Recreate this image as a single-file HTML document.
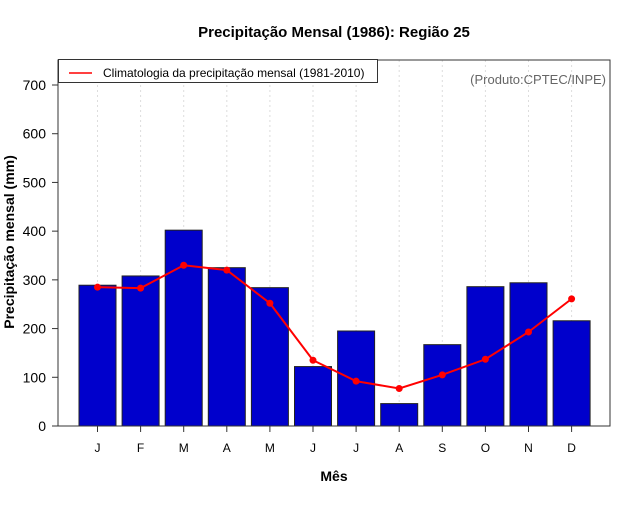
<!DOCTYPE html>
<html><head><meta charset="utf-8"><style>
body{margin:0;background:#fff}
svg text{font-family:"Liberation Sans",sans-serif}
</style></head><body>
<svg id="c" width="640" height="500">
<text x="334" y="37" text-anchor="middle" font-size="15" font-weight="bold">Precipitação Mensal (1986): Região 25</text>
<text x="334" y="481" text-anchor="middle" font-size="14" font-weight="bold">Mês</text>
<text transform="translate(14,242) rotate(-90)" text-anchor="middle" font-size="14" font-weight="bold">Precipitação mensal (mm)</text>
<text x="606" y="84" text-anchor="end" font-size="13" fill="#666">(Produto:CPTEC/INPE)</text>
<g id="grid"></g><g id="bars"></g><g id="line"></g><g id="axes"></g>
<rect x="58" y="60" width="552" height="366" fill="none" stroke="#333" stroke-width="1"/>
<g>
<rect x="58.5" y="59.5" width="319" height="23" fill="#fff" stroke="#333"/>
<line x1="69" y1="73" x2="92" y2="73" stroke="red" stroke-width="1.5"/>
<text x="103" y="77" font-size="12">Climatologia da precipitação mensal (1981-2010)</text>
</g>
</svg>
<script>
const months=["J","F","M","A","M","J","J","A","S","O","N","D"];
const precip=[289,308,402,325,284,122,195,46,167,286,294,216];
const clim=[285,283,330,320,252,135,92,77,105,137,193,261];
const yTicks=[0,100,200,300,400,500,600,700];
const NS="http://www.w3.org/2000/svg";
const y=v=>426-v*(341/700);
const x=i=>97.5+i*43.1;
function mk(t,a,p){const e=document.createElementNS(NS,t);for(const k in a)e.setAttribute(k,a[k]);document.getElementById(p).appendChild(e);return e;}
months.forEach((m,i)=>{
 const g=mk('line',{x1:x(i),x2:x(i),y1:60,y2:426,stroke:'#ddd','stroke-dasharray':'2,3'},'grid');
 
 
 const b=mk('rect',{x:x(i)-18.5,y:y(precip[i]),width:37,height:426-y(precip[i]),fill:'#0000cc',stroke:'#222'},'bars');
 
 
 const t=mk('line',{x1:x(i),x2:x(i),y1:426,y2:432,stroke:'#333'},'axes');
 
 
 const l=mk('text',{x:x(i),y:452,'text-anchor':'middle','font-size':12},'axes');
 l.textContent=m;
 
 
});
const pl=mk('polyline',{points:clim.map((v,i)=>x(i)+','+y(v)).join(' '),fill:'none',stroke:'red','stroke-width':2},'line');


clim.forEach((v,i)=>{
 const c=mk('circle',{cx:x(i),cy:y(v),r:3.5,fill:'red'},'line');
 
 
});
yTicks.forEach(v=>{
 const t=mk('line',{x1:52,x2:58,y1:y(v),y2:y(v),stroke:'#333'},'axes');
 
 
 const l=mk('text',{x:46,y:y(v)+5,'text-anchor':'end','font-size':14},'axes');
 l.textContent=v;
 
 
});
</script>
</body></html>
